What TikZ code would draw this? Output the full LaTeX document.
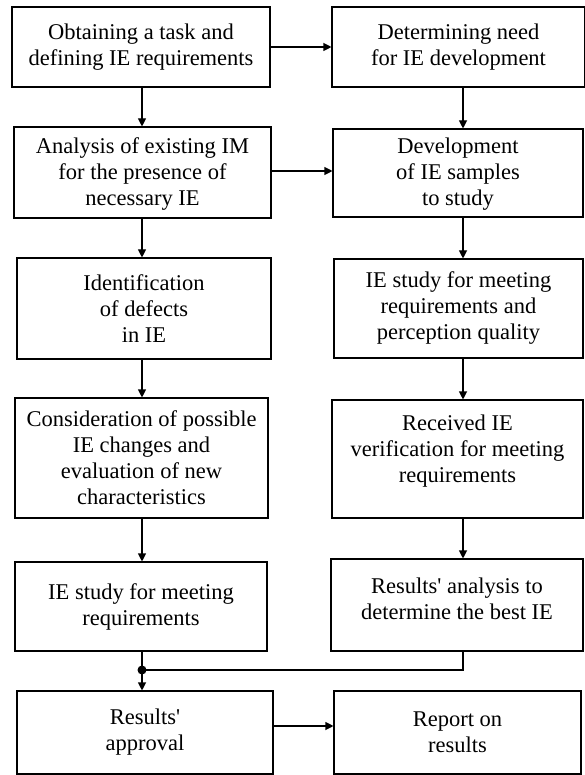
\documentclass[tikz,border=0pt]{standalone}
\usepackage{fontspec}
\setmainfont{Liberation Serif}
\usetikzlibrary{arrows.meta}
\begin{document}
\begin{tikzpicture}[x=1pt,y=-1pt,
  box/.style={draw, line width=1.1pt, rectangle, inner sep=0pt, align=center,
    font=\fontsize{22.5}{26}\selectfont},
  conn/.style={line width=1.1pt},
  arr/.style={conn, -{Triangle[length=8pt,width=8pt]}}]
\useasboundingbox (0,0) rectangle (584,775);
% left column
\node[box, minimum width=258pt, minimum height=80pt] (L1) at (141,47) {Obtaining a task and\\defining IE requirements};
\node[box, minimum width=257pt, minimum height=91pt] (L2) at (142.5,172.5) {\\[-8pt]Analysis of existing IM\\for the presence of\\necessary IE};
\node[box, minimum width=254pt, minimum height=101pt] (L3) at (144,308.5) {Identification\\of defects\\in IE};
\node[box, minimum width=253pt, minimum height=120pt] (L4) at (141.5,458) {Consideration of possible\\IE changes and\\evaluation of new\\characteristics};
\node[box, minimum width=252pt, minimum height=89pt] (L5) at (141,606.5) {IE study for meeting\\requirements};
\node[box, minimum width=256pt, minimum height=83pt] (L6) at (145,732.5) {Results\textquotesingle\\approval};
% right column
\node[box, minimum width=253pt, minimum height=80pt] (R1) at (458.5,47) {Determining need\\for IE development};
\node[box, minimum width=250pt, minimum height=88pt] (R2) at (458,173) {\\[-8pt]Development\\of IE samples\\to study};
\node[box, minimum width=249pt, minimum height=99pt] (R3) at (458.5,308.5) {IE study for meeting\\requirements and\\perception quality};
\node[box, minimum width=251pt, minimum height=118pt] (R4) at (457.5,459) {Received IE\\verification for meeting\\requirements\\[-6pt]\mbox{}};
\node[box, minimum width=252pt, minimum height=92pt] (R5) at (457,605) {Results\textquotesingle{} analysis to\\determine the best IE\\[-14pt]\mbox{}};
\node[box, minimum width=247pt, minimum height=83pt] (R6) at (457.5,732.5) {Report on\\results};
% helper coordinates
\coordinate (lx) at (142,0);
\coordinate (rx) at (463,0);
\coordinate (h2) at (0,171);
\coordinate (h3) at (0,726);
\coordinate (j) at (142,670);
% vertical arrows, left
\draw[arr] (L1.south -| lx) -- (L2.north -| lx);
\draw[arr] (L2.south -| lx) -- (L3.north -| lx);
\draw[arr] (L3.south -| lx) -- (L4.north -| lx);
\draw[arr] (L4.south -| lx) -- (L5.north -| lx);
\draw[arr] (L5.south -| lx) -- (L6.north -| lx);
% vertical arrows, right
\draw[arr] (R1.south -| rx) -- (R2.north -| rx);
\draw[arr] (R2.south -| rx) -- (R3.north -| rx);
\draw[arr] (R3.south -| rx) -- (R4.north -| rx);
\draw[arr] (R4.south -| rx) -- (R5.north -| rx);
% horizontal arrows
\draw[arr] (L1.east) -- (R1.west |- L1.east);
\draw[arr] (L2.east |- h2) -- (R2.west |- h2);
\draw[arr] (L6.east |- h3) -- (R6.west |- h3);
% join
\draw[conn] (R5.south -| rx) |- (j);
\fill (j) circle (4.5pt);
\end{tikzpicture}
\end{document}
